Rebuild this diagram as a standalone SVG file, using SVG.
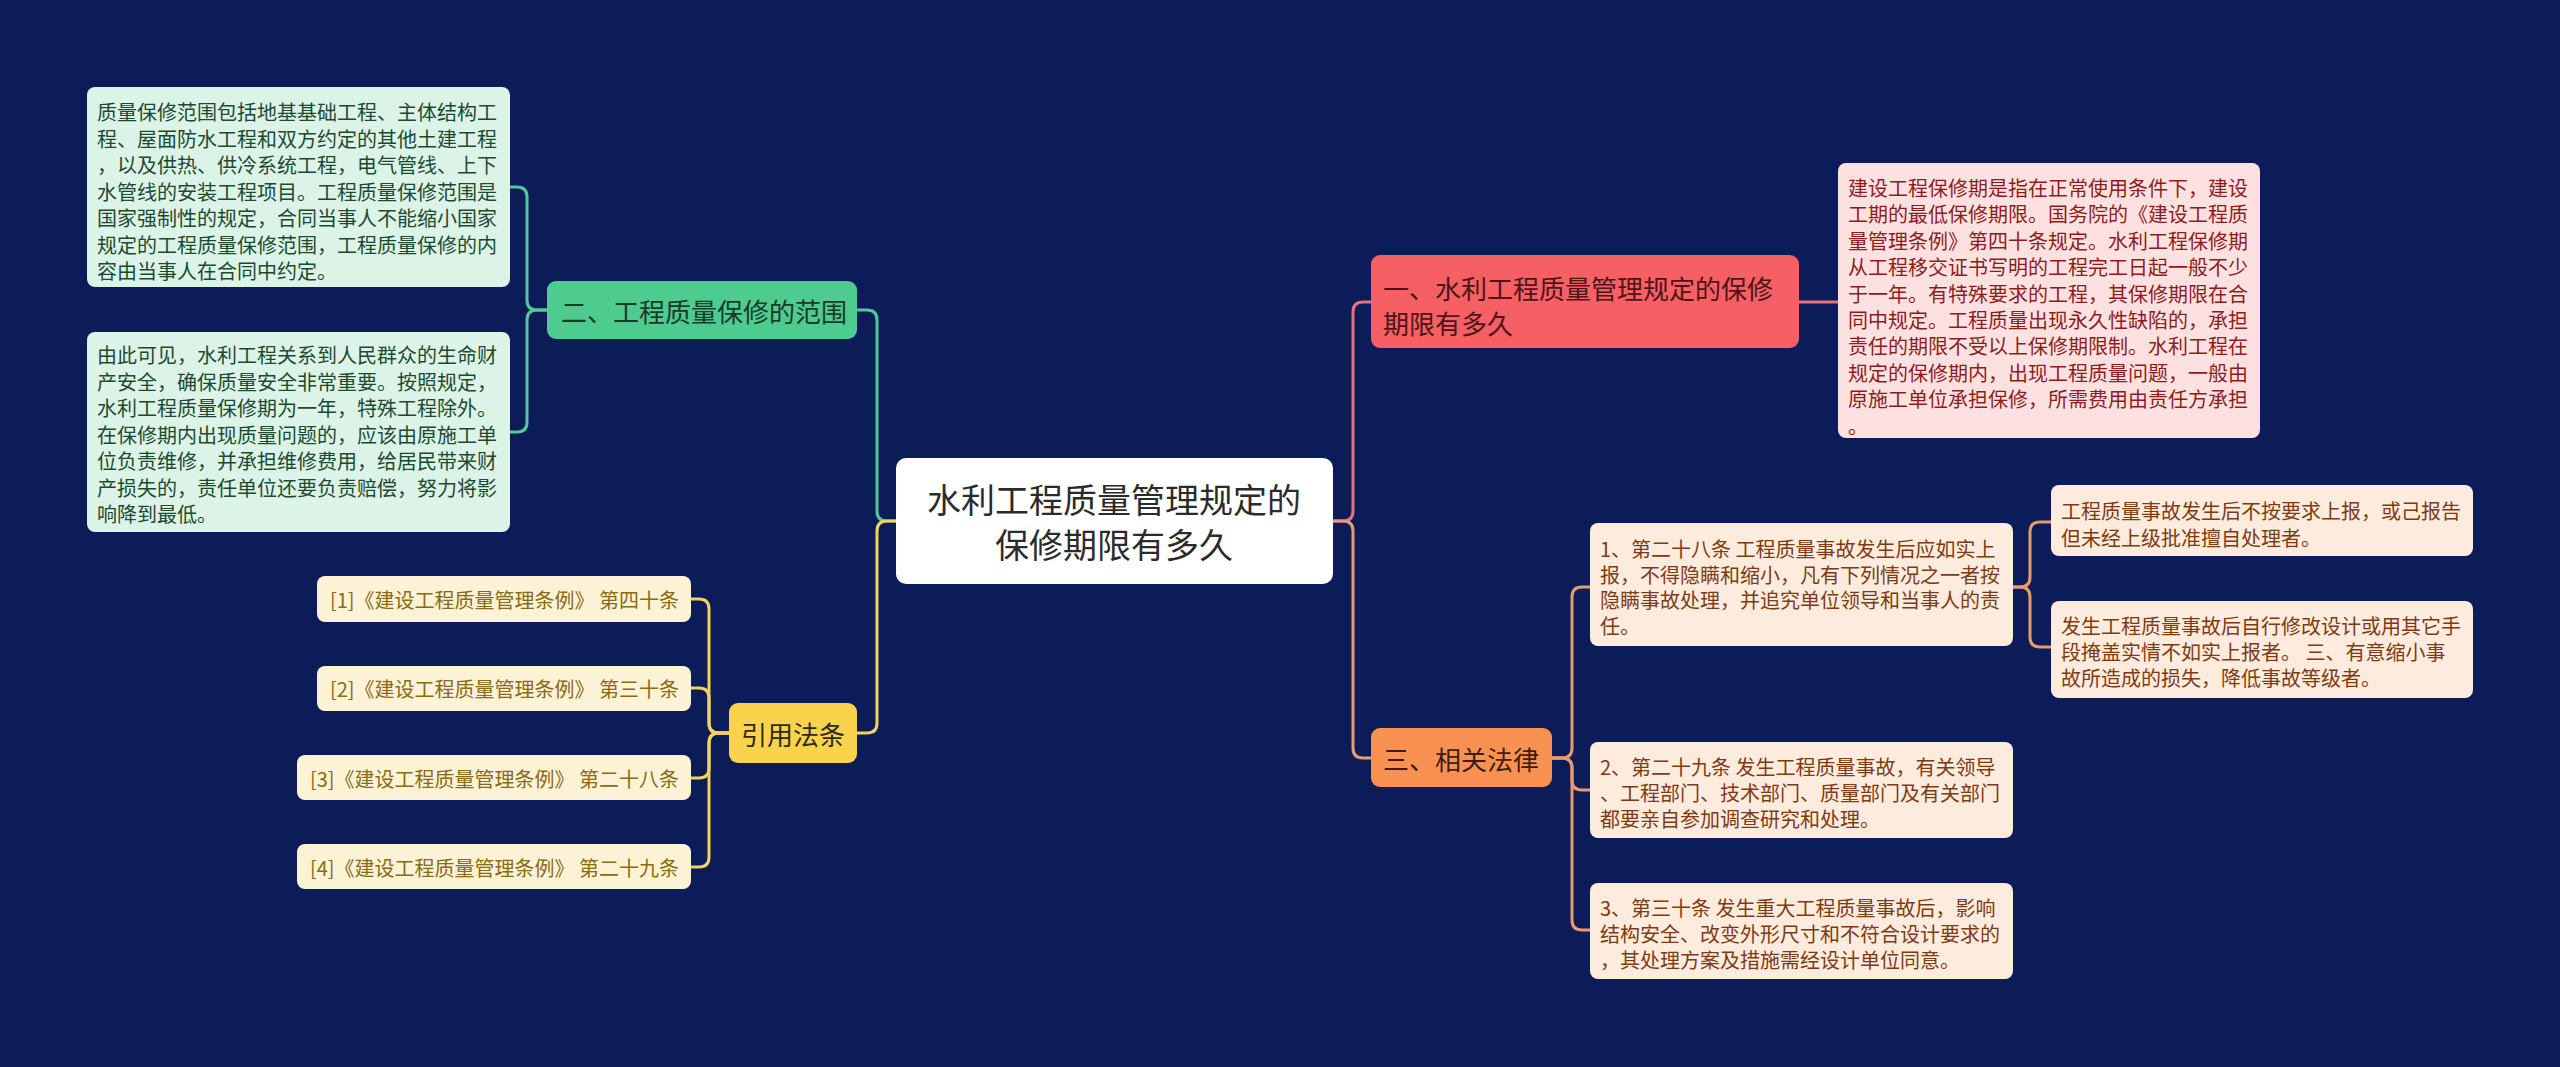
<svg xmlns="http://www.w3.org/2000/svg" width="2560" height="1067" viewBox="0 0 2560 1067">
<style>
text{font-family:"Noto Sans CJK SC","Noto Sans",sans-serif;dominant-baseline:central}
.c{fill:none;stroke-width:3;stroke-linecap:round}
.g{stroke:#52c896}.y{stroke:#f2d35c}.r{stroke:#e8707c}.o{stroke:#eb9a6c}
.t20{font-size:20px}
.leaf{fill:#dcf4e8}.lt{fill:#1c4a30}
.pk{fill:#fde1e1}.pt{fill:#8e1c1c}
.it{fill:#fdebde}.itt{fill:#7e3b12}
.rf{fill:#fcf3d6}.rft{fill:#8a6a14}
</style>
<rect width="2560" height="1067" fill="#0b1c58"/>
<g id="connectors">
<path class="c g" d="M857,310 H867 Q877,310 877,320 V511 Q877,521 887,521 H896"/>
<path class="c y" d="M857,733 H867 Q877,733 877,723 V531 Q877,521 887,521 H896"/>
<path class="c g" d="M547,310 H537 Q527,310 527,300 V197 Q527,187 517,187 H510"/>
<path class="c g" d="M547,310 H537 Q527,310 527,320 V422 Q527,432 517,432 H510"/>
<path class="c y" d="M729,733 H719 Q709,733 709,723 V609 Q709,599 699,599 H691"/>
<path class="c y" d="M729,733 H719 Q709,733 709,723 V698 Q709,688 699,688 H691"/>
<path class="c y" d="M729,733 H719 Q709,733 709,743 V768 Q709,778 699,778 H691"/>
<path class="c y" d="M729,733 H719 Q709,733 709,743 V857 Q709,867 699,867 H691"/>
<path class="c r" d="M1333,521 H1343 Q1353,521 1353,511 V312 Q1353,302 1363,302 H1371"/>
<path class="c o" d="M1333,521 H1343 Q1353,521 1353,531 V748 Q1353,758 1363,758 H1371"/>
<path class="c r" d="M1799,302 H1838"/>
<path class="c o" d="M1552,758 H1562 Q1572,758 1572,748 V597 Q1572,587 1582,587 H1590"/>
<path class="c o" d="M1552,758 H1562 Q1572,758 1572,768 V780 Q1572,790 1582,790 H1590"/>
<path class="c o" d="M1552,758 H1562 Q1572,758 1572,768 V920 Q1572,930 1582,930 H1590"/>
<path class="c o" d="M2013,587 H2020 Q2030,587 2030,577 V532 Q2030,522 2040,522 H2051"/>
<path class="c o" d="M2013,587 H2020 Q2030,587 2030,597 V637 Q2030,647 2040,647 H2051"/>
</g>
<g id="central">
<rect x="896" y="458" width="437" height="126" rx="10" fill="#ffffff"/>
<text font-size="34" fill="#2b2b2b" text-anchor="middle"><tspan x="1114" y="498">水利工程质量管理规定的</tspan><tspan x="1114" y="543">保修期限有多久</tspan></text>
</g>
<g id="n-scope">
<rect x="547" y="281" width="310" height="58" rx="9" fill="#4ecb8f"/>
<text x="561" y="310" font-size="26" fill="#1a3a28">二、工程质量保修的范围</text>
</g>
<g id="n-scope-1">
<rect x="87" y="87" width="423" height="200" rx="8" class="leaf"/>
<text class="t20 lt" x="97"><tspan x="97" y="111">质量保修范围包括地基基础工程、主体结构工</tspan><tspan x="97" y="137.5">程、屋面防水工程和双方约定的其他土建工程</tspan><tspan x="97" y="164">，以及供热、供冷系统工程，电气管线、上下</tspan><tspan x="97" y="190.5">水管线的安装工程项目。工程质量保修范围是</tspan><tspan x="97" y="217">国家强制性的规定，合同当事人不能缩小国家</tspan><tspan x="97" y="243.5">规定的工程质量保修范围，工程质量保修的内</tspan><tspan x="97" y="270">容由当事人在合同中约定。</tspan></text>
</g>
<g id="n-scope-2">
<rect x="87" y="332" width="423" height="200" rx="8" class="leaf"/>
<text class="t20 lt" x="97"><tspan x="97" y="354">由此可见，水利工程关系到人民群众的生命财</tspan><tspan x="97" y="380.5">产安全，确保质量安全非常重要。按照规定，</tspan><tspan x="97" y="407">水利工程质量保修期为一年，特殊工程除外。</tspan><tspan x="97" y="433.5">在保修期内出现质量问题的，应该由原施工单</tspan><tspan x="97" y="460">位负责维修，并承担维修费用，给居民带来财</tspan><tspan x="97" y="486.5">产损失的，责任单位还要负责赔偿，努力将影</tspan><tspan x="97" y="513">响降到最低。</tspan></text>
</g>
<g id="n-refs">
<rect x="729" y="703" width="128" height="60" rx="9" fill="#fbd24c"/>
<text x="793" y="733" font-size="26" fill="#2e2a1a" text-anchor="middle">引用法条</text>
</g>
<g id="n-ref-1">
<rect x="317" y="576" width="374" height="46" rx="8" class="rf"/>
<text class="t20 rft" x="679" y="599" text-anchor="end">[1]《建设工程质量管理条例》 第四十条</text>
</g>
<g id="n-ref-2">
<rect x="317" y="666" width="374" height="45" rx="8" class="rf"/>
<text class="t20 rft" x="679" y="688" text-anchor="end">[2]《建设工程质量管理条例》 第三十条</text>
</g>
<g id="n-ref-3">
<rect x="297" y="755" width="394" height="45" rx="8" class="rf"/>
<text class="t20 rft" x="679" y="778" text-anchor="end">[3]《建设工程质量管理条例》 第二十八条</text>
</g>
<g id="n-ref-4">
<rect x="297" y="844" width="394" height="45" rx="8" class="rf"/>
<text class="t20 rft" x="679" y="867" text-anchor="end">[4]《建设工程质量管理条例》 第二十九条</text>
</g>
<g id="n-period">
<rect x="1371" y="255" width="428" height="93" rx="9" fill="#f65f63"/>
<text font-size="26" fill="#4e1418"><tspan x="1383" y="287">一、水利工程质量管理规定的保修</tspan><tspan x="1383" y="322">期限有多久</tspan></text>
</g>
<g id="n-period-1">
<rect x="1838" y="163" width="422" height="275" rx="8" class="pk"/>
<text class="t20 pt"><tspan x="1848" y="187">建设工程保修期是指在正常使用条件下，建设</tspan><tspan x="1848" y="213.4">工期的最低保修期限。国务院的《建设工程质</tspan><tspan x="1848" y="239.8">量管理条例》第四十条规定。水利工程保修期</tspan><tspan x="1848" y="266.2">从工程移交证书写明的工程完工日起一般不少</tspan><tspan x="1848" y="292.6">于一年。有特殊要求的工程，其保修期限在合</tspan><tspan x="1848" y="319">同中规定。工程质量出现永久性缺陷的，承担</tspan><tspan x="1848" y="345.4">责任的期限不受以上保修期限制。水利工程在</tspan><tspan x="1848" y="371.8">规定的保修期内，出现工程质量问题，一般由</tspan><tspan x="1848" y="398.2">原施工单位承担保修，所需费用由责任方承担</tspan><tspan x="1848" y="424.6">。</tspan></text>
</g>
<g id="n-law">
<rect x="1371" y="728" width="181" height="59" rx="9" fill="#f99152"/>
<text x="1461" y="758" font-size="26" fill="#3a1e10" text-anchor="middle">三、相关法律</text>
</g>
<g id="n-law-1">
<rect x="1590" y="523" width="423" height="123" rx="8" class="it"/>
<text class="t20 itt"><tspan x="1600" y="548">1、第二十八条 工程质量事故发生后应如实上</tspan><tspan x="1600" y="573.5">报，不得隐瞒和缩小，凡有下列情况之一者按</tspan><tspan x="1600" y="599">隐瞒事故处理，并追究单位领导和当事人的责</tspan><tspan x="1600" y="624.5">任。</tspan></text>
</g>
<g id="n-law-1a">
<rect x="2051" y="485" width="422" height="71" rx="8" class="it"/>
<text class="t20 itt"><tspan x="2061" y="510">工程质量事故发生后不按要求上报，或己报告</tspan><tspan x="2061" y="536.5">但未经上级批准擅自处理者。</tspan></text>
</g>
<g id="n-law-1b">
<rect x="2051" y="601" width="422" height="97" rx="8" class="it"/>
<text class="t20 itt"><tspan x="2061" y="625">发生工程质量事故后自行修改设计或用其它手</tspan><tspan x="2061" y="651">段掩盖实情不如实上报者。 三、有意缩小事</tspan><tspan x="2061" y="677">故所造成的损失，降低事故等级者。</tspan></text>
</g>
<g id="n-law-2">
<rect x="1590" y="742" width="423" height="96" rx="8" class="it"/>
<text class="t20 itt"><tspan x="1600" y="766">2、第二十九条 发生工程质量事故，有关领导</tspan><tspan x="1600" y="792">、工程部门、技术部门、质量部门及有关部门</tspan><tspan x="1600" y="818">都要亲自参加调查研究和处理。</tspan></text>
</g>
<g id="n-law-3">
<rect x="1590" y="883" width="423" height="96" rx="8" class="it"/>
<text class="t20 itt"><tspan x="1600" y="907">3、第三十条 发生重大工程质量事故后，影响</tspan><tspan x="1600" y="933">结构安全、改变外形尺寸和不符合设计要求的</tspan><tspan x="1600" y="959">，其处理方案及措施需经设计单位同意。</tspan></text>
</g>
</svg>
